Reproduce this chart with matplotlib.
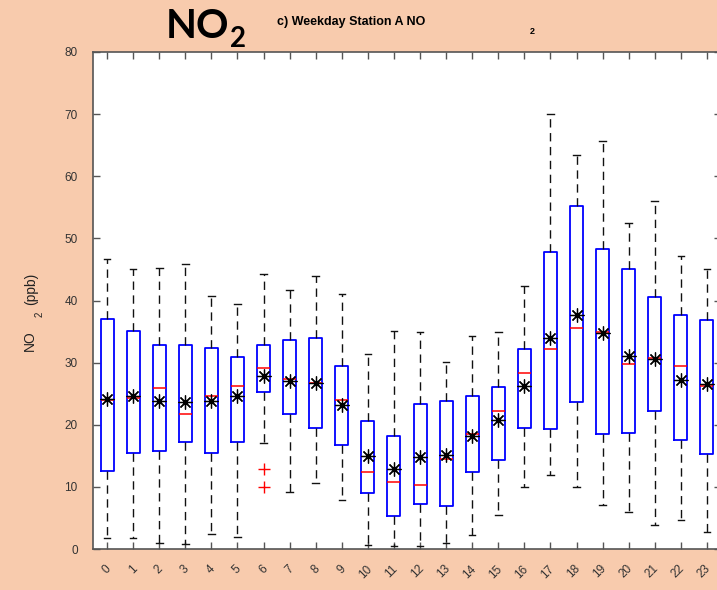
import matplotlib
matplotlib.use('Agg')
import matplotlib.pyplot as plt
import matplotlib.transforms as mtrans
import numpy as np

# hourly NO2 box stats (ppb)
hours = list(range(24))
whis_hi = [46.7, 45.1, 45.3, 45.8, 40.8, 39.5, 44.2, 41.7, 44.0, 41.0, 31.4, 35.1,
           34.9, 30.1, 34.3, 34.9, 42.3, 70.1, 63.5, 65.6, 52.5, 56.0, 47.1, 45.0]
q3 = [37.0, 35.1, 32.9, 32.8, 32.4, 30.9, 32.8, 33.7, 34.0, 29.4, 20.6, 18.2,
      23.3, 23.9, 24.7, 26.1, 32.2, 47.8, 55.2, 48.3, 45.1, 40.5, 37.7, 36.8]
med = [24.0, 24.3, 25.9, 21.7, 24.6, 26.2, 29.2, 27.3, 26.7, 24.0, 12.4, 10.8,
       10.3, 14.5, 18.5, 22.2, 28.4, 32.2, 35.6, 35.0, 29.8, 30.7, 29.5, 26.2]
mean = [24.1, 24.7, 23.9, 23.6, 23.8, 24.6, 27.8, 27.1, 26.8, 23.2, 15.0, 12.9,
        14.8, 15.2, 18.2, 20.8, 26.3, 34.0, 37.7, 34.7, 31.1, 30.6, 27.2, 26.6]
q1 = [12.6, 15.5, 15.7, 17.3, 15.5, 17.3, 25.2, 21.8, 19.4, 16.8, 9.0, 5.3,
      7.2, 7.0, 12.4, 14.3, 19.4, 19.3, 23.7, 18.5, 18.6, 22.2, 17.5, 15.3]
whis_lo = [1.7, 1.8, 1.0, 0.75, 2.4, 2.0, 17.0, 9.1, 10.7, 7.9, 0.6, 0.5,
           0.5, 1.0, 2.2, 5.4, 9.9, 11.9, 9.9, 7.1, 5.9, 3.8, 4.6, 2.7]
fliers = {6: [12.8, 9.9]}

stats = []
for i, h in enumerate(hours):
    stats.append({'med': med[i], 'q1': q1[i], 'q3': q3[i],
                  'whislo': whis_lo[i], 'whishi': whis_hi[i],
                  'fliers': fliers.get(h, [])})

bg = '#F8CBAD'
fig = plt.figure(figsize=(7.17, 5.90), dpi=100, facecolor=bg)
ax = fig.add_axes([93/717, 41/590, 628/717, 497/590])
ax.set_facecolor('white')

ax.bxp(stats, positions=hours, widths=0.5, showfliers=True,
       boxprops=dict(color='#0000FF', linewidth=1.3),
       medianprops=dict(color='#FF0000', linewidth=1.1),
       whiskerprops=dict(color='#111111', linewidth=1.0, linestyle=(0, (6, 4))),
       capprops=dict(color='#111111', linewidth=1.0),
       flierprops=dict(marker='+', markeredgecolor='#FF0000', markersize=9,
                       markeredgewidth=1.0, linestyle='none'))

ax.plot(hours, mean, linestyle='none', marker=(8, 2, 0), markersize=10,
        markeredgecolor='black', markeredgewidth=0.9, color='black', zorder=5)
ax.plot(hours, mean, linestyle='none', marker='o', markersize=3,
        color='black', zorder=6)

ax.set_xlim(-0.54, 23.54)
ax.set_ylim(0, 80)
ax.set_yticks(np.arange(0, 81, 10))
ax.set_xticks(hours)
ax.set_xticklabels([str(h) for h in hours], rotation=45, ha='right',
                   rotation_mode='anchor', va='center')

ax.tick_params(axis='both', direction='in', length=5, width=1, color='#555555',
               labelsize=8.5, labelcolor='#333333', top=True, right=True)
ax.tick_params(axis='y', pad=11)
ax.tick_params(axis='x', pad=13)
shift = mtrans.ScaledTranslation(2/100, 0, fig.dpi_scale_trans)
for lab in ax.get_xticklabels():
    lab.set_fontfamily('Liberation Sans')
    lab.set_transform(lab.get_transform() + shift)
for lab in ax.get_yticklabels():
    lab.set_fontfamily('Liberation Sans')
for s in ax.spines.values():
    s.set_color('#555555')
    s.set_linewidth(1.2)

# y label (NO 2 (ppb)) in pieces
fig.text(30/717, 1 - 341/590, 'NO', rotation=90, ha='center', va='center',
         fontsize=10, color='#222222', family='Liberation Sans')
fig.text(40/717, 1 - 314/590, '2', rotation=90, ha='center', va='center',
         fontsize=7, color='#222222', family='Liberation Sans')
fig.text(31/717, 1 - 289/590, '(ppb)', rotation=90, ha='center', va='center',
         fontsize=10, color='#222222', family='Liberation Sans')

# titles
fig.text(166/717, 1 - 26/590, 'NO', fontsize=29, fontweight='bold',
         family='Lato', ha='left', va='center', color='black')
fig.text(230/717, 1 - 39/590, '2', fontsize=20, fontweight='bold',
         family='Lato', ha='left', va='center', color='black')
fig.text(277/717, 1 - 22/590, 'c) Weekday Station A NO', fontsize=9,
         fontweight='bold', family='Liberation Sans', ha='left', va='center')
fig.text(532/717, 1 - 32/590, '2', fontsize=6.5, fontweight='bold',
         family='Liberation Sans', ha='center', va='center')

fig.savefig('out.png', dpi=100, facecolor=bg)
